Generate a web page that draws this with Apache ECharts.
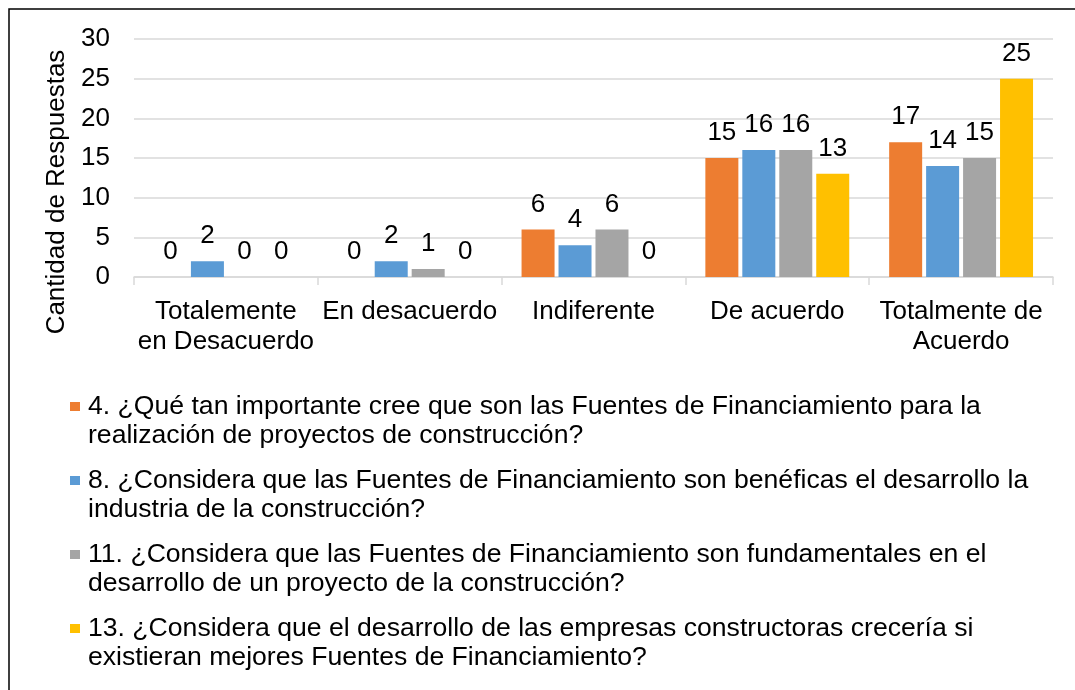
<!DOCTYPE html>
<html>
<head>
<meta charset="utf-8">
<script src="https://cdn.jsdelivr.net/npm/echarts@6/dist/echarts.min.js"></script>
<style>
  html, body { margin: 0; padding: 0; background: #fff; }
  #chart { width: 1075px; height: 690px; }
</style>
</head>
<body>
<div id="chart"></div>
<script>
var categories = ['Totalemente\nen Desacuerdo', 'En desacuerdo', 'Indiferente', 'De acuerdo', 'Totalmente de\nAcuerdo'];
var seriesNames = [
    '4. ¿Qué tan importante cree que son las Fuentes de Financiamiento para la\nrealización de proyectos de construcción?',
    '8. ¿Considera que las Fuentes de Financiamiento son benéficas el desarrollo la\nindustria de la construcción?',
    '11. ¿Considera que las Fuentes de Financiamiento son fundamentales en el\ndesarrollo de un proyecto de la construcción?',
    '13. ¿Considera que el desarrollo de las empresas constructoras crecería si\nexistieran mejores Fuentes de Financiamiento?'
];
var q4Data = [0, 0, 6, 15, 17];
var q8Data = [2, 2, 4, 16, 14];
var q11Data = [0, 1, 6, 16, 15];
var q13Data = [0, 0, 0, 13, 25];
var colors = ['#ED7D31', '#5B9BD5', '#A5A5A5', '#FFC000'];

var font = 'Liberation Sans, Arial, sans-serif';

function makeSeries(name, data, color) {
    return {
        name: name,
        type: 'bar',
        data: data,
        barWidth: 33,
        barGap: '12%',
        itemStyle: { color: color },
        label: {
            show: true,
            position: 'top',
            distance: 12,
            color: '#000',
            fontSize: 26,
            fontFamily: font
        }
    };
}

var dom = document.getElementById('chart');
var myChart = echarts.init(dom);
var option = {
    animation: false,
    textStyle: { fontFamily: font },
    color: colors,
    graphic: [{
        type: 'rect',
        shape: { x: 9, y: 9, width: 1200, height: 800 },
        style: { fill: 'none', stroke: '#000', lineWidth: 1.5 }
    }],
    grid: {
        left: 134,
        right: 22,
        top: 39,
        bottom: 413
    },
    legend: {
        orient: 'vertical',
        left: 70,
        top: 392,
        padding: 0,
        itemGap: 16,
        itemWidth: 10,
        itemHeight: 38,
        icon: 'path://M0,0h10v9h-10z M0,38h0.01v0.01h-0.01z',
        textStyle: {
            color: '#000',
            fontSize: 26.6,
            lineHeight: 29,
            fontFamily: font,
            padding: [0, 0, 0, 3]
        },
        data: seriesNames
    },
    xAxis: {
        type: 'category',
        data: categories,
        axisLine: { lineStyle: { color: '#D9D9D9', width: 1.5 } },
        axisTick: { show: true, length: 8, lineStyle: { color: '#D9D9D9', width: 1.5 } },
        axisLabel: {
            color: '#000',
            fontSize: 26,
            lineHeight: 30,
            margin: 20,
            interval: 0
        }
    },
    yAxis: {
        type: 'value',
        min: 0,
        max: 30,
        interval: 5,
        name: 'Cantidad de Respuestas',
        nameLocation: 'middle',
        nameGap: 62,
        nameTextStyle: {
            color: '#000',
            fontSize: 26,
            padding: [0, 68, 0, 0]
        },
        axisLine: { show: false },
        axisTick: { show: false },
        splitLine: { lineStyle: { color: '#D9D9D9', width: 1.5 } },
        axisLabel: {
            color: '#000',
            fontSize: 26,
            margin: 24
        }
    },
    series: [
        makeSeries(seriesNames[0], q4Data, colors[0]),
        makeSeries(seriesNames[1], q8Data, colors[1]),
        makeSeries(seriesNames[2], q11Data, colors[2]),
        makeSeries(seriesNames[3], q13Data, colors[3])
    ]
};
if (option && typeof option === "object") {
    myChart.setOption(option, true);
}
</script>
</body>
</html>
